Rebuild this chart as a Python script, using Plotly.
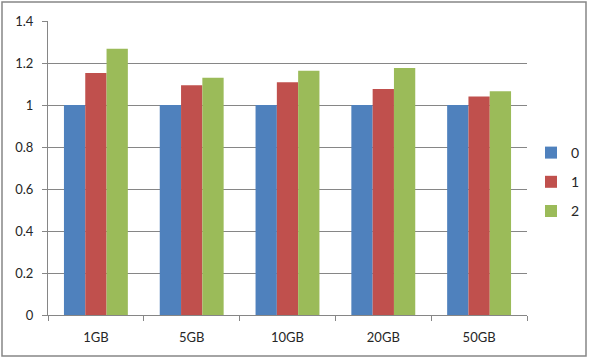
import plotly.graph_objects as go

categories = ["1GB", "5GB", "10GB", "20GB", "50GB"]
series_names = ["0", "1", "2"]
values_0 = [1.0, 1.0, 1.0, 1.0, 1.0]
values_1 = [1.152, 1.094, 1.108, 1.076, 1.041]
values_2 = [1.268, 1.130, 1.163, 1.176, 1.065]
colors = ["#4F81BD", "#C0504D", "#9BBB59"]
y_ticks = [0, 0.2, 0.4, 0.6, 0.8, 1, 1.2, 1.4]

W, H = 589, 358
L, R, T, B = 48, 527, 21, 315

fig = go.Figure()
for name, vals, col in zip(series_names, [values_0, values_1, values_2], colors):
    fig.add_trace(go.Bar(x=categories, y=vals, name=name, marker_color=col,
                         marker_line_width=0, legendgroup=name))

font = dict(family="Lato, 'Open Sans', sans-serif", size=13, color="#262626")

def px_x(p):
    return (p - L) / (R - L)

def px_y(p):
    return (B - p) / (B - T)

fig.update_layout(
    width=W, height=H,
    margin=dict(l=L, r=W - R, t=T, b=H - B, pad=0, autoexpand=False),
    paper_bgcolor="white", plot_bgcolor="white",
    font=font,
    barmode="group", bargap=0.333, bargroupgap=0,
    showlegend=True,
    legend=dict(x=px_x(531), y=px_y(137), xanchor="left", yanchor="top",
                font=dict(family="Lato, 'Open Sans', sans-serif", size=14, color="#262626"),
                tracegroupgap=8, itemwidth=30, bgcolor="rgba(0,0,0,0)"),
    xaxis=dict(showline=True, linecolor="#868686", linewidth=1,
               ticks="outside", tickson="boundaries", ticklen=5, tickcolor="#868686",
               showgrid=False, tickfont=font, zeroline=False, ticklabelstandoff=10),
    yaxis=dict(range=[0, 1.4], tickvals=y_ticks, ticktext=[f"{v:g}" for v in y_ticks],
               showline=True, linecolor="#868686", linewidth=1,
               ticks="outside", ticklen=5, tickcolor="#868686",
               showgrid=True, gridcolor="#868686", gridwidth=1,
               zeroline=False, tickfont=font, ticklabelstandoff=6),
    shapes=[dict(type="rect", xref="paper", yref="paper",
                 x0=px_x(2), x1=px_x(586), y0=px_y(356), y1=px_y(2),
                 line=dict(color="#868686", width=1.5), layer="below")],
)

fig.write_html("out.html")
